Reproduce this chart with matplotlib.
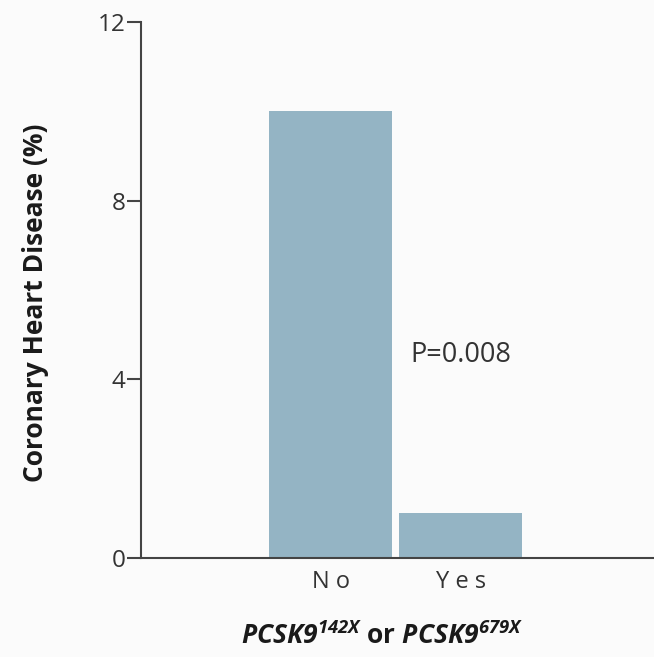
import matplotlib
matplotlib.use("Agg")
import matplotlib.pyplot as plt

categories = ["No", "Yes"]
values = [10.0, 1.0]
yticks = [0, 4, 8, 12]
p_text = "P=0.008"

plt.rcParams['font.family'] = ['Open Sans', 'DejaVu Sans']
plt.rcParams['mathtext.fontset'] = 'custom'
plt.rcParams['mathtext.bfit'] = 'Open Sans:italic:bold'
plt.rcParams['mathtext.bf'] = 'Open Sans:bold'
plt.rcParams['mathtext.it'] = 'Open Sans:italic'
plt.rcParams['mathtext.rm'] = 'Open Sans'

bg = '#fbfbfb'
fig = plt.figure(figsize=(6.54, 6.57), dpi=100, facecolor=bg)
W, H = 654, 657
ax = fig.add_axes([141 / W, 1 - 558 / H, (653 - 141) / W, (558 - 22) / H], facecolor=bg)

x = list(range(len(categories)))
ax.bar(x, values, width=0.95, color='#94b4c4', zorder=2)
ax.set_xlim(-1.46, 2.48)
ax.set_ylim(0, 12)
ax.set_yticks(yticks)
ax.set_yticklabels([str(t) for t in yticks], fontsize=17.5, color='#333333')
ax.set_xticks(x)
ax.set_xticklabels([" ".join(c) for c in categories], fontsize=17, color='#333333')
ax.tick_params(axis='y', length=10, width=1.5, color='#444444', pad=1)
ax.tick_params(axis='x', length=0, pad=9)
for s in ['top', 'right']:
    ax.spines[s].set_visible(False)
for s in ['left', 'bottom']:
    ax.spines[s].set_color('#444444')
    ax.spines[s].set_linewidth(1.5)

ax.text(0.61, 4.55, p_text, fontsize=19.5, color='#333333', va='center', ha='left')

fig.text(36 / W, 1 - 303 / H, "Coronary Heart Disease (%)", rotation=90,
         fontsize=19, fontweight='bold', color='#1a1a1a', ha='center', va='center')
fig.text(382 / W, 1 - 636 / H,
         r'$\mathbfit{PCSK9}^{\mathbfit{142X}}$ or $\mathbfit{PCSK9}^{\mathbfit{679X}}$',
         fontsize=19, fontweight='bold', color='#1a1a1a', ha='center', va='center')

fig.savefig("out.png", dpi=100, facecolor=bg)
